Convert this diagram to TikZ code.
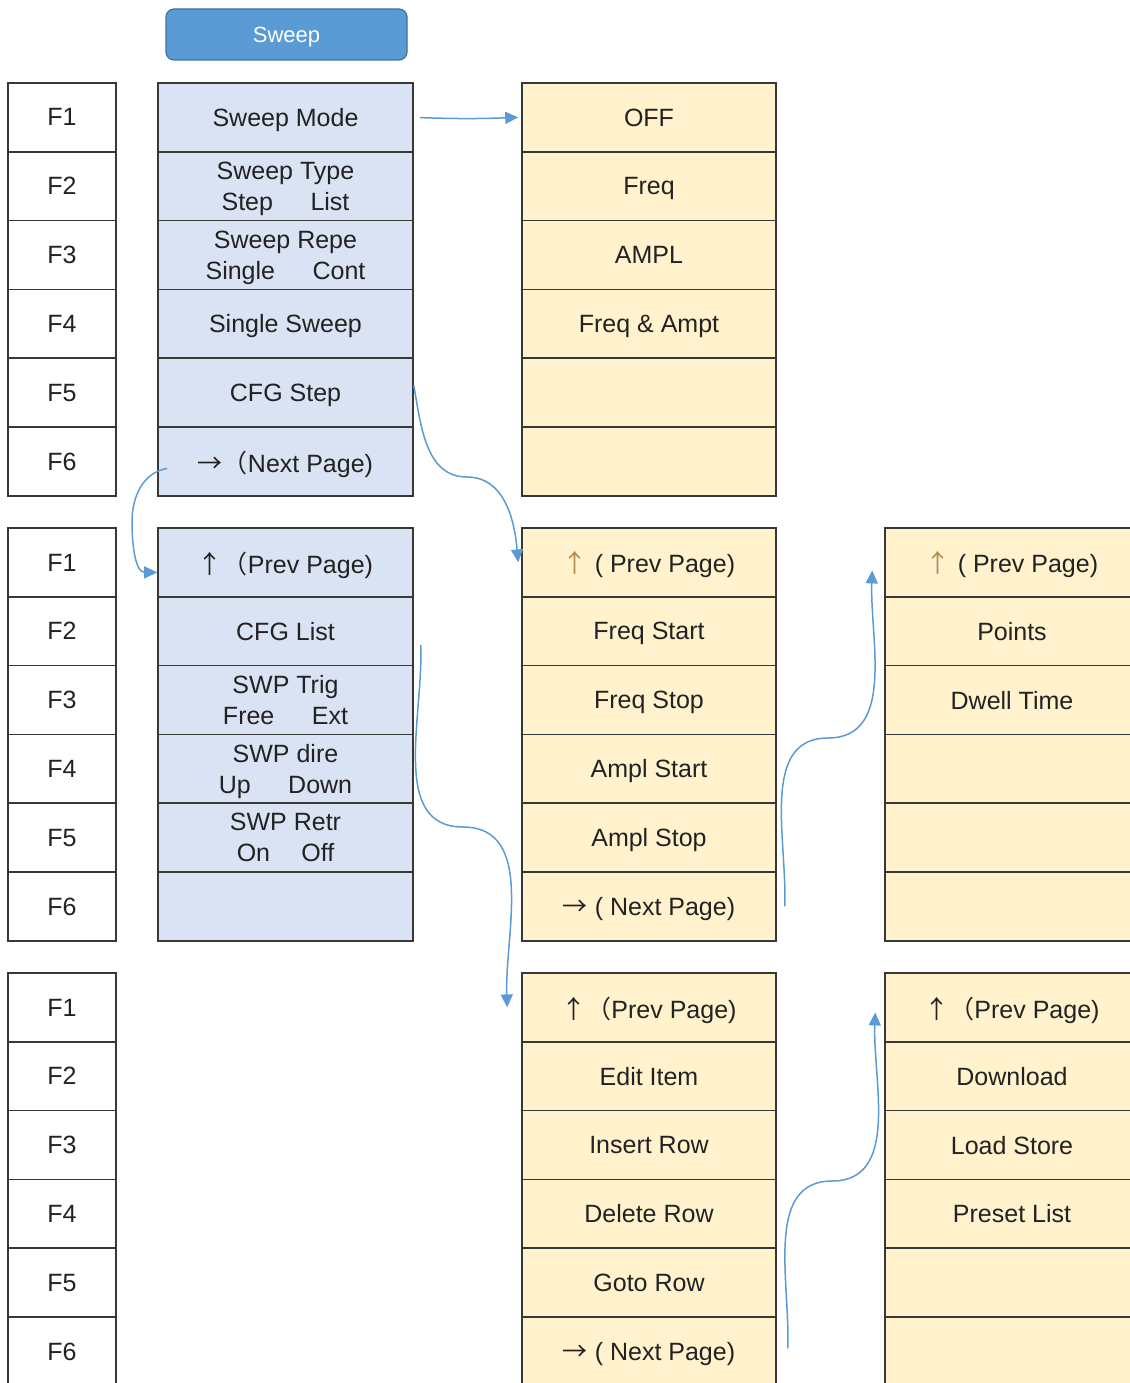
\documentclass[tikz,border=0pt]{standalone}
\usepackage{fontspec}
\setmainfont{Liberation Sans}
\newfontfamily\cjk{Noto Sans CJK SC}
\usetikzlibrary{arrows.meta}
\usepackage{xcolor}
\definecolor{menublue}{HTML}{DAE3F3}
\definecolor{optyellow}{HTML}{FFF2CC}
\definecolor{edge}{HTML}{383838}
\definecolor{ink}{HTML}{222222}
\definecolor{linkblue}{HTML}{5B9BD5}
\definecolor{btnblue}{HTML}{5B9BD5}
\definecolor{btnedge}{HTML}{41719C}
\definecolor{arrtan}{HTML}{B88A48}
% full width bracket and arrows
\newcommand\wparen{{\cjk （}}
\newcommand\rar{{\cjk →}}
\newcommand\uar{{\cjk ↑}}
\newcommand\tanup{\textcolor{arrtan}{\uar}}

\begin{document}
\begin{tikzpicture}
[x=1pt, y=-1pt,
% one cell of a softkey table
cell/.style={draw=edge, line width=1.6pt, minimum height=68.8pt, inner sep=0pt, text depth=0pt, align=center, font=\fontsize{25}{31}\selectfont, text=ink},
fkey/.style={cell, minimum width=108pt, fill=white},
menu/.style={cell, minimum width=255pt, fill=menublue},
opt/.style={cell, minimum width=254pt, fill=optyellow},
% the blue links between pages
link/.style={draw=linkblue, line width=1.5pt, -{Triangle[length=13pt,width=12pt]}}
]
\useasboundingbox (0,0) rectangle (1129,1383);

% Draw title button
\node[draw=btnedge, fill=btnblue, rounded corners=8pt, line width=1.2pt, minimum width=241pt, minimum height=51pt, text depth=0pt, text=white, font=\fontsize{22}{26}\selectfont] (sweep) at (286.5,34.5) {Sweep};

% Draw F keys
\foreach \g in {1,2,3}
 \foreach \r in {1,...,6}{
  \pgfmathsetmacro\yy{83+445*(\g-1)+68.8*(\r-0.5)}
  \node[fkey] (f\g\r) at (62,\yy) {F\r};
 }

% Draw menu pages
\foreach \r/\t in {1/{Sweep Mode}, 2/{Sweep Type\\Step\hspace{1.5em}List}, 3/{Sweep Repe\\Single\hspace{1.5em}Cont}, 4/{Single Sweep}, 5/{CFG Step}, 6/{\rar\wparen Next Page)}}
 \node[menu] (b1\r) at (285.5,{83+68.8*(\r-0.5)}) {\t};
\foreach \r/\t in {1/{\uar\wparen Prev Page)}, 2/{CFG List}, 3/{SWP Trig\\Free\hspace{1.5em}Ext}, 4/{SWP dire\\Up\hspace{1.5em}Down}, 5/{SWP Retr\\On\hspace{1.25em}Off}, 6/{}}
 \node[menu] (b2\r) at (285.5,{528+68.8*(\r-0.5)}) {\t};

% Draw option pages
\foreach \r/\t in {1/OFF, 2/Freq, 3/AMPL, 4/{Freq \& Ampt}, 5/{}, 6/{}}
 \node[opt] (y1\r) at (649,{83+68.8*(\r-0.5)}) {\t};
\foreach \r/\t in {1/{\tanup\ ( Prev Page)}, 2/{Freq Start}, 3/{Freq Stop}, 4/{Ampl Start}, 5/{Ampl Stop}, 6/{\rar\ ( Next Page)}}
 \node[opt] (y2\r) at (649,{528+68.8*(\r-0.5)}) {\t};
\foreach \r/\t in {1/{\uar\wparen Prev Page)}, 2/{Edit Item}, 3/{Insert Row}, 4/{Delete Row}, 5/{Goto Row}, 6/{\rar\ ( Next Page)}}
 \node[opt] (y3\r) at (649,{973+68.8*(\r-0.5)}) {\t};
\foreach \r/\t in {1/{\tanup\ ( Prev Page)}, 2/Points, 3/{Dwell Time}, 4/{}, 5/{}, 6/{}}
 \node[opt] (z2\r) at (1012,{528+68.8*(\r-0.5)}) {\t};
\foreach \r/\t in {1/{\uar\wparen Prev Page)}, 2/Download, 3/{Load Store}, 4/{Preset List}, 5/{}, 6/{}}
 \node[opt] (z3\r) at (1012,{973+68.8*(\r-0.5)}) {\t};

% Draw links
\coordinate (bend2) at (467,477);
\coordinate (bend3) at (132,522);
\coordinate (bend4) at (463,827);
\coordinate (bend5) at (828,738);
\coordinate (bend6) at (832,1181);
\draw[link, shorten <=6pt] (b11.east) to[bend right=2] ([xshift=-3pt]y11.west);
\draw[link] ([yshift=-28pt]b15.north east) to[out=-80,in=180] (bend2) to[out=0,in=95] ([xshift=-3pt]y21.west);
\draw[link] ([shift={(10pt,-7pt)}]b16.west) to[out=190,in=90] (bend3) to[out=-90,in=180] ([yshift=-10pt]b21.west);
\draw[link] ([shift={(7pt,-14pt)}]b22.east) to[out=-88,in=180] (bend4) to[out=0,in=92] ([xshift=-14pt]y31.west);
\draw[link] ([xshift=8pt]y26.east) to[out=88,in=180] (bend5) to[out=0,in=-92] ([shift={(-12pt,-8pt)}]z21.west);
\draw[link] ([shift={(11pt,3pt)}]y36.east) to[out=88,in=180] (bend6) to[out=0,in=-92] ([shift={(-9pt,-5pt)}]z31.west);
\end{tikzpicture}
\end{document}
